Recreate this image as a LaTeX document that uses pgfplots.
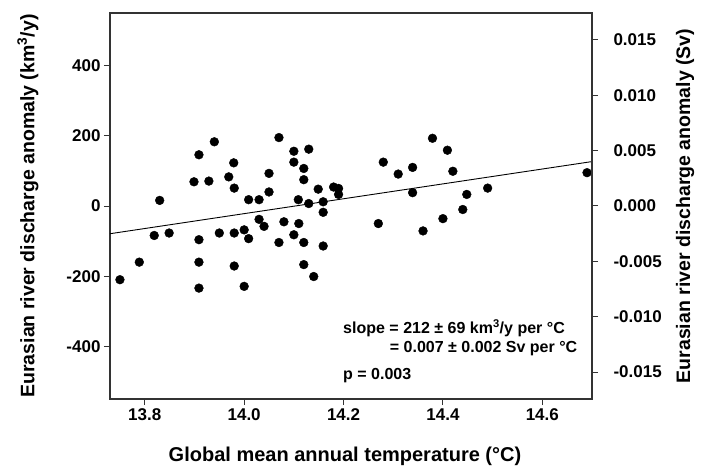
\documentclass[border=0pt]{standalone}
\usepackage{fontspec}
\setmainfont{Liberation Sans}
\usepackage{pgfplots}
\pgfplotsset{compat=1.18}
\begin{document}
\begin{tikzpicture}
\pgfplotsset{
  common/.style={
    at={(0,0)}, anchor=south west,
    scale only axis, width=482bp, height=386bp,
    xmin=13.73, xmax=14.70,
    tick align=outside,
    major tick length=6bp,
    scaled ticks=false,
    axis line style={line width=1.2bp, black!80},
    every tick/.style={line width=1bp, black!80},
    tick label style={font=\fontsize{17bp}{20bp}\selectfont\bfseries},
  }
}
\begin{axis}[
  common,
  name=main,
  ymin=-550, ymax=550,
  xtick={13.8,14.0,14.2,14.4,14.6},
  xticklabels={13.8,14.0,14.2,14.4,14.6},
  ytick={-400,-200,0,200,400},
  yticklabels={-400,-200,0,200,400},
  xtick pos=bottom, ytick pos=left,
  xlabel={Global mean annual temperature (°C)},
  ylabel={Eurasian river discharge anomaly (km\textsuperscript{3}/y)},
  every axis x label/.style={at={(axis description cs:0.5,0)}, anchor=center, yshift=-57bp, xshift=-6bp, font=\fontsize{20bp}{24bp}\selectfont\bfseries},
  every axis y label/.style={at={(axis description cs:0,0.5)}, anchor=center, xshift=-82bp, rotate=90, font=\fontsize{19.5bp}{23bp}\selectfont\bfseries},
]
\addplot[black, line width=0.9bp] coordinates {(13.73,-79.0) (14.70,126.6)};
\addplot[only marks, mark=*, mark size=4.4bp, black] coordinates {
(13.75,-210) (13.789,-160) (13.819,-84) (13.83,16) (13.849,-77)
(13.899,69) (13.909,146) (13.909,-96) (13.909,-160) (13.909,-234)
(13.929,71) (13.94,183) (13.95,-77) (13.969,83) (13.979,123)
(13.98,51) (13.98,-77) (13.98,-171) (14.0,-68) (14.0,-229)
(14.009,18) (14.009,-93) (14.03,18) (14.03,-38) (14.04,-58)
(14.05,93) (14.05,40) (14.07,195) (14.07,-104) (14.08,-45)
(14.10,156) (14.10,125) (14.10,-82) (14.109,18) (14.11,-50)
(14.12,107) (14.12,75) (14.12,-104) (14.12,-167) (14.13,162)
(14.13,7) (14.14,-201) (14.149,48) (14.159,12) (14.159,-18)
(14.159,-114) (14.18,54) (14.19,50) (14.19,33) (14.27,-50)
(14.28,125) (14.31,91) (14.339,110) (14.339,38) (14.36,-71)
(14.379,193) (14.40,-36) (14.409,159) (14.42,99) (14.44,-10)
(14.448,33) (14.49,51) (14.69,95)
};
\node[anchor=west, font=\fontsize{16bp}{19bp}\selectfont\bfseries, inner sep=0pt] at (axis cs:14.199,-349) {slope = 212 ± 69 km\textsuperscript{3}/y per °C};
\node[anchor=west, font=\fontsize{16bp}{19bp}\selectfont\bfseries, inner sep=0pt] at (axis cs:14.293,-407) {= 0.007 ± 0.002 Sv per °C};
\node[anchor=west, font=\fontsize{16bp}{19bp}\selectfont\bfseries, inner sep=0pt] at (axis cs:14.199,-483) {p = 0.003};
\end{axis}
\begin{axis}[
  common,
  ymin=-0.017428, ymax=0.017428,
  axis x line=none, axis y line*=right,
  ytick={-0.015,-0.010,-0.005,0,0.005,0.010,0.015},
  yticklabels={-0.015,-0.010,-0.005,0.000,0.005,0.010,0.015},
  yticklabel style={xshift=12bp},
  ylabel={Eurasian river discharge anomaly (Sv)},
  every axis y label/.style={at={(axis description cs:1,0.5)}, anchor=center, xshift=93bp, rotate=90, font=\fontsize{19.5bp}{23bp}\selectfont\bfseries},
]
\end{axis}
\pgfresetboundingbox
\path[use as bounding box] (-110bp,-67bp) rectangle (592bp,399bp);
\end{tikzpicture}
\end{document}
